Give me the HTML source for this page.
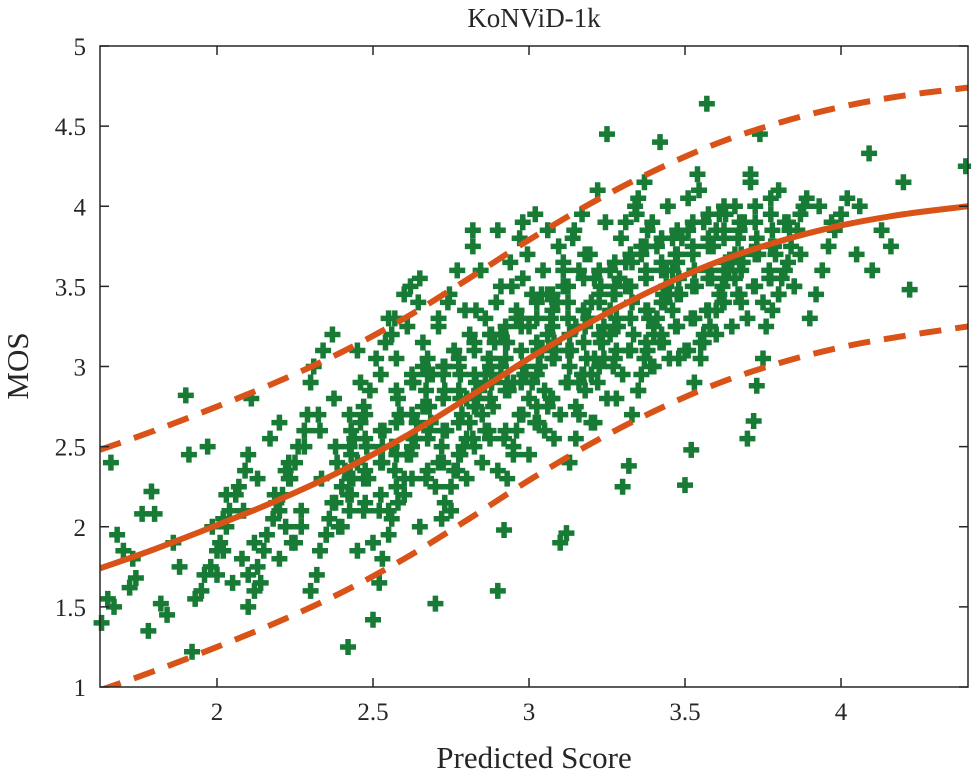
<!DOCTYPE html>
<html><head><meta charset="utf-8"><style>
html,body{margin:0;padding:0;background:#fff;}
svg text{font-family:"Liberation Serif",serif;fill:#262626;}
</style></head><body>
<svg id="chart" width="971" height="774" viewBox="0 0 971 774" xmlns="http://www.w3.org/2000/svg">
<text x="534" y="27" font-size="27" text-anchor="middle">KoNViD-1k</text>
<g id="marks"></g>
<g id="axes"></g>
<text x="534" y="768" font-size="31" text-anchor="middle">Predicted Score</text>
<text transform="translate(28,366) rotate(-90)" font-size="31" text-anchor="middle">MOS</text>
</svg>
<script>
const xTicks=[2,2.5,3,3.5,4];
const yTicks=[1,1.5,2,2.5,3,3.5,4,4.5,5];
const fitX=[1.625,1.8,2,2.2,2.4,2.6,2.8,3,3.2,3.4,3.6,3.8,4,4.2,4.407];
const fitY=[1.74,1.86,2.01,2.17,2.35,2.56,2.8,3.05,3.28,3.48,3.65,3.78,3.88,3.95,4.0];
const upperY=[2.48,2.6,2.75,2.91,3.09,3.3,3.54,3.79,4.02,4.22,4.39,4.52,4.62,4.69,4.74];
const lowerY=[0.98,1.1,1.25,1.41,1.59,1.8,2.04,2.29,2.52,2.72,2.89,3.02,3.12,3.19,3.25];
const scoreX=[1.63,1.65,1.66,1.68,1.7,1.72,1.74,1.76,1.78,1.8,1.82,1.84,1.86,1.88,1.67,1.73,1.79,
1.9,1.92,1.93,1.95,1.96,1.98,2.0,2.01,2.03,2.04,2.06,2.07,2.09,1.91,1.97,2.02,2.05,2.08,
2.1,2.12,2.13,2.15,2.16,2.18,2.2,2.21,2.23,2.25,2.26,2.28,2.29,2.11,2.14,2.19,2.22,2.27,2.17,2.24,
2.3,2.32,2.33,2.35,2.36,2.38,2.4,2.41,2.43,2.44,2.46,2.47,2.49,2.31,2.34,2.37,2.42,2.45,2.48,2.39,2.43,2.33,2.47,
2.5,2.52,2.53,2.55,2.56,2.58,2.6,2.61,2.63,2.64,2.66,2.67,2.69,2.51,2.54,2.57,2.62,2.65,2.68,2.53,2.59,2.6,2.66,2.56,
2.7,2.72,2.73,2.75,2.76,2.78,2.8,2.81,2.83,2.84,2.86,2.87,2.89,2.71,2.74,2.77,2.82,2.85,2.88,2.79,2.73,2.8,2.86,2.76,2.83,2.71,2.88,2.78,
2.9,2.92,2.93,2.95,2.96,2.98,3.0,3.01,3.03,3.04,3.06,3.07,3.09,2.91,2.94,2.97,3.02,3.05,3.08,2.99,2.93,3.0,3.06,2.96,3.03,2.91,3.08,2.98,3.04,2.95,
3.1,3.12,3.13,3.15,3.16,3.18,3.2,3.21,3.23,3.24,3.26,3.27,3.29,3.11,3.14,3.17,3.22,3.25,3.28,3.19,3.13,3.2,3.26,3.16,3.23,3.11,3.28,3.18,3.24,3.15,3.21,
3.3,3.32,3.33,3.35,3.36,3.38,3.4,3.41,3.43,3.44,3.46,3.47,3.49,3.31,3.34,3.37,3.42,3.45,3.48,3.39,3.33,3.4,3.46,3.36,3.43,3.31,3.48,3.38,3.44,3.35,
3.5,3.52,3.53,3.55,3.56,3.58,3.6,3.61,3.63,3.64,3.66,3.67,3.69,3.51,3.54,3.57,3.62,3.65,3.68,3.59,3.53,3.6,3.66,3.56,3.63,3.51,3.68,
3.7,3.72,3.73,3.75,3.76,3.78,3.8,3.81,3.83,3.84,3.86,3.87,3.89,3.71,3.74,3.77,3.82,3.85,3.79,3.73,3.8,
3.9,3.92,3.94,3.96,3.98,4.0,4.02,4.05,3.93,3.97,
4.1,4.13,4.06,4.2,4.09,4.16,4.22,4.4];
const scoreY=[1.4,1.55,2.4,1.95,1.85,1.62,1.68,2.08,1.35,2.08,1.52,1.45,1.9,1.75,1.5,1.8,2.22,
2.82,1.22,1.55,1.6,1.7,1.75,1.85,1.9,2.0,2.1,2.2,2.25,2.35,2.45,2.5,2.05,1.65,1.8,
1.5,1.6,1.75,1.85,1.95,2.05,2.1,2.2,2.3,2.4,2.5,2.6,2.7,2.8,1.65,2.15,2.35,2.0,2.55,1.9,
1.6,1.7,1.85,1.95,2.05,2.15,2.25,2.35,2.45,2.55,2.65,2.75,2.85,3.0,3.1,3.2,1.25,2.4,2.5,2.0,2.2,2.6,2.3,
1.42,1.65,1.8,1.95,2.05,2.15,2.3,2.45,2.55,2.65,2.75,2.85,2.95,3.05,3.15,3.3,3.5,3.55,2.6,2.4,2.7,2.2,3.0,2.5,
1.52,2.05,2.15,2.25,2.35,2.45,2.55,2.65,2.75,2.85,2.95,3.05,3.15,3.25,3.4,3.6,3.85,2.7,2.9,2.5,3.0,2.8,2.6,3.1,3.35,2.4,3.2,2.95,
1.6,1.98,2.3,2.45,2.6,2.7,2.8,2.9,3.0,3.1,3.2,3.3,3.4,3.5,3.65,3.8,3.95,2.85,3.05,2.95,3.15,3.25,2.75,3.35,2.65,3.0,2.55,3.55,3.45,2.9,
1.9,1.96,2.4,2.55,2.7,2.85,2.95,3.05,3.15,3.25,3.35,3.45,3.55,3.65,3.8,3.95,4.1,4.45,3.1,3.3,3.0,3.4,3.2,2.9,3.5,3.6,2.8,3.7,3.05,3.25,2.65,
2.25,2.38,2.7,2.85,2.95,3.1,3.2,3.3,3.4,3.5,3.6,3.7,3.8,3.9,4.0,4.15,4.4,3.45,3.55,3.0,3.65,3.25,3.35,3.75,3.15,3.5,3.05,3.85,3.6,4.05,
2.26,2.48,2.9,3.05,3.15,3.25,3.35,3.45,3.55,3.6,3.7,3.8,3.9,4.05,4.2,4.64,3.5,3.65,3.4,3.75,3.3,3.85,3.55,3.2,3.95,3.1,3.6,
2.55,2.66,2.88,3.05,3.25,3.35,3.45,3.55,3.65,3.75,3.85,3.95,4.05,4.2,4.45,3.6,3.9,3.5,3.7,3.8,4.1,
3.3,3.45,3.6,3.75,3.85,3.95,4.05,3.7,4.0,3.9,
3.6,3.85,4.0,4.15,4.33,3.75,3.48,4.25];
const extraPoints=[
[2.0,1.7],[2.02,1.85],[1.985,2.0],[2.03,2.2],[2.1,1.7],[2.12,1.9],[2.085,2.1],[2.13,2.3],
[2.2,1.8],[2.22,2.0],[2.185,2.2],[2.23,2.4],[2.25,1.9],[2.27,2.1],[2.235,2.3],[2.28,2.5],
[2.35,1.95],[2.37,2.15],[2.335,2.3],[2.38,2.5],[2.325,2.7],[2.4,2.0],[2.42,2.2],[2.385,2.4],[2.43,2.6],[2.375,2.8],
[2.45,1.85],[2.47,2.1],[2.435,2.3],[2.48,2.5],[2.425,2.7],[2.46,2.9],[2.5,1.9],[2.52,2.1],[2.485,2.3],[2.53,2.5],[2.475,2.7],
[2.55,2.1],[2.57,2.35],[2.535,2.6],[2.58,2.8],[2.525,2.95],[2.56,3.2],
[2.6,2.2],[2.62,2.45],[2.585,2.7],[2.63,2.9],[2.575,3.05],[2.61,3.25],
[2.65,2.0],[2.67,2.3],[2.635,2.55],[2.68,2.75],[2.625,2.95],[2.66,3.15],[2.645,3.4],
[2.7,2.25],[2.72,2.5],[2.685,2.65],[2.73,2.85],[2.675,3.05],[2.71,3.3],
[2.75,2.1],[2.77,2.35],[2.735,2.6],[2.78,2.8],[2.725,2.95],[2.76,3.1],[2.745,3.45],
[2.8,2.3],[2.82,2.55],[2.785,2.7],[2.83,2.9],[2.775,3.0],[2.81,3.2],[2.795,3.35],
[2.85,2.4],[2.87,2.6],[2.835,2.8],[2.88,2.95],[2.825,3.1],[2.86,3.3],[2.845,3.6],
[2.9,2.35],[2.92,2.55],[2.885,2.75],[2.93,2.9],[2.875,3.05],[2.91,3.2],[2.895,3.4],
[2.95,2.5],[2.97,2.7],[2.935,2.85],[2.98,3.0],[2.925,3.15],[2.96,3.3],[2.945,3.5],
[3.0,2.45],[3.02,2.65],[2.985,2.95],[3.03,3.1],[2.975,3.25],[3.01,3.45],[2.995,3.7],
[3.05,2.6],[3.07,2.8],[3.035,3.0],[3.08,3.15],[3.025,3.3],[3.06,3.45],[3.045,3.6],
[3.1,2.7],[3.12,2.9],[3.085,3.1],[3.13,3.2],[3.075,3.35],[3.11,3.5],[3.095,3.75],
[3.15,2.75],[3.17,2.95],[3.135,3.1],[3.18,3.25],[3.125,3.4],[3.16,3.6],[3.145,3.85],
[3.2,2.65],[3.22,2.9],[3.185,3.05],[3.23,3.2],[3.175,3.35],[3.21,3.55],[3.195,3.7],
[3.25,2.8],[3.27,3.0],[3.235,3.15],[3.28,3.3],[3.225,3.45],[3.26,3.6],[3.245,3.9],
[3.3,2.95],[3.32,3.1],[3.285,3.25],[3.33,3.4],[3.275,3.5],[3.31,3.65],[3.295,3.8],
[3.35,2.85],[3.37,3.05],[3.335,3.2],[3.38,3.35],[3.325,3.5],[3.36,3.7],[3.345,3.95],
[3.4,3.0],[3.42,3.15],[3.385,3.3],[3.43,3.45],[3.375,3.6],[3.41,3.75],[3.395,3.9],
[3.45,3.05],[3.47,3.25],[3.435,3.4],[3.48,3.55],[3.425,3.65],[3.46,3.8],[3.445,4.0],
[3.5,3.1],[3.52,3.3],[3.485,3.45],[3.53,3.6],[3.475,3.7],[3.51,3.85],
[3.55,3.15],[3.57,3.35],[3.535,3.5],[3.58,3.6],[3.525,3.75],[3.56,3.9],[3.545,4.1],
[3.6,3.2],[3.62,3.4],[3.585,3.55],[3.63,3.65],[3.575,3.8],[3.61,3.95],
[3.65,3.25],[3.67,3.45],[3.635,3.6],[3.68,3.7],[3.625,3.85],[3.66,4.0],
[3.7,3.3],[3.72,3.5],[3.685,3.65],[3.73,3.75],[3.675,3.9],[3.71,4.15],
[3.75,3.4],[3.77,3.55],[3.735,3.7],[3.78,3.85],[3.725,4.0],
[3.8,3.45],[3.82,3.6],[3.785,3.75],[3.83,3.9],[3.775,4.05],
[3.85,3.5],[3.87,3.7],[3.835,3.85],[3.88,4.0],
[2.98,3.9],[3.06,3.85],[2.9,3.85],[2.82,3.75],[2.6,3.45],[2.55,3.3],[2.45,3.1],[2.3,2.9],[2.2,2.65],[2.1,2.45]];
const corePoints=[
[2.425,2.1],[2.425,2.3],[2.425,2.5],[2.475,2.15],[2.475,2.35],[2.475,2.55],[2.525,2.2],[2.525,2.4],[2.525,2.6],
[2.575,2.25],[2.575,2.45],[2.575,2.65],[2.575,2.85],
[2.625,2.3],[2.625,2.5],[2.625,2.7],[2.625,2.9],[2.675,2.35],[2.675,2.55],[2.675,2.75],[2.675,2.95],
[2.725,2.4],[2.725,2.6],[2.725,2.8],[2.725,3.0],[2.775,2.45],[2.775,2.65],[2.775,2.85],[2.775,3.05],
[2.825,2.5],[2.825,2.75],[2.825,2.95],[2.825,3.15],[2.875,2.55],[2.875,2.8],[2.875,3.0],[2.875,3.2],
[2.925,2.6],[2.925,2.85],[2.925,3.05],[2.925,3.25],[2.975,2.7],[2.975,2.9],[2.975,3.1],[2.975,3.3],
[3.025,2.75],[3.025,2.95],[3.025,3.15],[3.025,3.4],[3.075,2.8],[3.075,3.05],[3.075,3.25],[3.075,3.45],
[3.125,2.9],[3.125,3.1],[3.125,3.3],[3.125,3.5],[3.175,2.95],[3.175,3.15],[3.175,3.35],[3.175,3.55],
[3.225,3.0],[3.225,3.2],[3.225,3.4],[3.225,3.6],[3.275,3.05],[3.275,3.25],[3.275,3.45],[3.275,3.65],
[3.325,3.1],[3.325,3.3],[3.325,3.5],[3.325,3.7],[3.375,3.15],[3.375,3.35],[3.375,3.55],[3.375,3.75],
[3.425,3.2],[3.425,3.4],[3.425,3.6],[3.425,3.8],[3.475,3.25],[3.475,3.45],[3.475,3.65],[3.475,3.85],
[3.525,3.3],[3.525,3.5],[3.525,3.7],[3.525,3.9],[3.575,3.35],[3.575,3.55],[3.575,3.75],[3.575,3.95],
[3.625,3.4],[3.625,3.6],[3.625,3.8],[3.625,4.0],[3.675,3.45],[3.675,3.65],[3.675,3.85],
[3.725,3.5],[3.725,3.7],[3.725,3.9],[3.775,3.55],[3.775,3.75],[3.775,3.95]];
const X0=1.625,X1=4.407,Y0=1,Y1=5,L=100,R=968,T=46,B=687;
const sx=v=>L+(v-X0)/(X1-X0)*(R-L);
const sy=v=>B-(v-Y0)/(Y1-Y0)*(B-T);
const NS='http://www.w3.org/2000/svg';
const marks=document.getElementById('marks'),axes=document.getElementById('axes');
function mk(tag,parent){const e=document.createElementNS(NS,tag);parent.appendChild(e);return e;}
const allPts=scoreX.map((v,i)=>[v,scoreY[i]]).concat(extraPoints,corePoints);
for(let i=0;i<allPts.length;i++){
 const x=sx(allPts[i][0]),y=sy(allPts[i][1]);
 const p=mk('path',marks);
 
 
 p.setAttribute('d',`M${x-8},${y}H${x+8}M${x},${y-8}V${y+8}`);
 p.setAttribute('stroke','#177a35');p.setAttribute('stroke-width','5.5');
}
function smooth(xs,ys){
 const P=xs.map((v,i)=>[sx(v),sy(ys[i])]);let d=`M${P[0][0]},${P[0][1]}`;
 for(let i=0;i<P.length-1;i++){const p0=P[Math.max(0,i-1)],p1=P[i],p2=P[i+1],p3=P[Math.min(P.length-1,i+2)];
  d+=`C${p1[0]+(p2[0]-p0[0])/6},${p1[1]+(p2[1]-p0[1])/6} ${p2[0]-(p3[0]-p1[0])/6},${p2[1]-(p3[1]-p1[1])/6} ${p2[0]},${p2[1]}`;}
 return d;}
const clip=mk('clipPath',document.getElementById('chart'));clip.id='pc';
const cr=mk('rect',clip);cr.setAttribute('x',L);cr.setAttribute('y',T);cr.setAttribute('width',R-L);cr.setAttribute('height',B-T);
[['fit-curve',fitY,null],['upper-bound',upperY,'22,14'],['lower-bound',lowerY,'22,14']].forEach(([n,ys,da])=>{
 const p=mk('path',marks);
 
 
 p.setAttribute('d',smooth(fitX,ys));p.setAttribute('fill','none');p.setAttribute('stroke','#d95319');
 p.setAttribute('stroke-width','6');p.setAttribute('clip-path','url(#pc)');if(da)p.setAttribute('stroke-dasharray',da);
});
const fr=mk('rect',axes);


fr.setAttribute('x',L);fr.setAttribute('y',T);fr.setAttribute('width',R-L);fr.setAttribute('height',B-T);
fr.setAttribute('fill','none');fr.setAttribute('stroke','#262626');fr.setAttribute('stroke-width','1.5');
xTicks.forEach(v=>{const x=sx(v);
 const t=mk('path',axes);t.setAttribute('d',`M${x},${B}v-9M${x},${T}v9`);t.setAttribute('stroke','#262626');t.setAttribute('stroke-width','1.5');
 const l=mk('text',axes);
 
 
 l.setAttribute('x',x);l.setAttribute('y',B+33);l.setAttribute('font-size','25');l.setAttribute('text-anchor','middle');l.textContent=v;});
yTicks.forEach(v=>{const y=sy(v);
 const t=mk('path',axes);t.setAttribute('d',`M${L},${y}h9M${R},${y}h-9`);t.setAttribute('stroke','#262626');t.setAttribute('stroke-width','1.5');
 const l=mk('text',axes);
 
 
 l.setAttribute('x',L-14);l.setAttribute('y',y+9);l.setAttribute('font-size','25');l.setAttribute('text-anchor','end');l.textContent=v;});
</script>
</body></html>
